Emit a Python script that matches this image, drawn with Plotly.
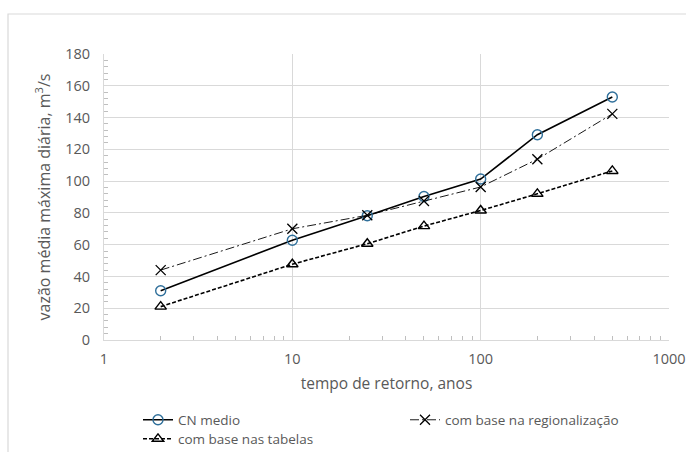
import plotly.graph_objects as go

# Return periods (years) and daily mean peak discharge (m³/s)
tempo_retorno = [2, 10, 25, 50, 100, 200, 500]
cn_medio = [31, 62.8, 78.2, 90.3, 101.3, 129.2, 152.9]
regionalizacao = [44, 70, 78.5, 87.5, 96.3, 113.8, 142.3]
tabelas = [21, 47.7, 60.6, 71.7, 81.5, 92, 106.4]

nomes = ["CN medio", "com base na regionalização", "com base nas tabelas"]

FONT = "Open Sans"
TICK_COLOR = "#595959"
GRID = "#d9d9d9"

W, H = 686, 452
L, R, T, B = 104, 17, 54, 112

fig = go.Figure()

fig.add_trace(go.Scatter(
    x=tempo_retorno, y=cn_medio, name=nomes[0], mode="lines+markers",
    line=dict(color="#000000", width=1.6),
    marker=dict(symbol="circle-open", size=10, color="#2f6f9a", line=dict(width=1.4)),
    legend="legend",
))
fig.add_trace(go.Scatter(
    x=tempo_retorno, y=regionalizacao, name=nomes[1], mode="lines+markers",
    line=dict(color="#000000", width=0.9, dash="9px,3px,2px,3px"),
    marker=dict(symbol="x-thin-open", size=10, color="#000000", line=dict(width=1.3, color="#000000")),
    legend="legend",
))
fig.add_trace(go.Scatter(
    x=tempo_retorno, y=tabelas, name=nomes[2], mode="lines+markers",
    line=dict(color="#000000", width=1.6, dash="4px,2px"),
    marker=dict(symbol="triangle-up-open", size=10, color="#000000", line=dict(width=1.4)),
    legend="legend2",
))

# pixel -> paper coordinate helpers
px = lambda v: (v - L) / (W - L - R)
py = lambda v: 1 - (v - T) / (H - T - B)

# outer chart-area frame
fig.add_shape(type="rect", xref="paper", yref="paper",
              x0=px(8), x1=px(W + 20), y0=py(H + 20), y1=py(14),
              line=dict(color="#d9d9d9", width=1.2), fillcolor="rgba(0,0,0,0)", layer="below")

legend_common = dict(
    orientation="h", xanchor="left", yanchor="middle",
    entrywidth=222, entrywidthmode="pixels",
    font=dict(size=13.5, color=TICK_COLOR, family=FONT),
    itemclick=False, bgcolor="rgba(0,0,0,0)", borderwidth=0,
)

fig.update_layout(
    width=W, height=H,
    margin=dict(l=L, r=R, t=T, b=B, autoexpand=False),
    paper_bgcolor="white", plot_bgcolor="white",
    font=dict(family=FONT, color=TICK_COLOR, size=14),
    showlegend=True,
    legend=dict(x=px(138), y=py(420), **legend_common),
    legend2=dict(x=px(138), y=py(439), **legend_common),
)

fig.update_xaxes(
    type="log", range=[0, 3], dtick=1, tickformat="d",
    showgrid=True, gridcolor=GRID, gridwidth=1,
    showline=True, linecolor=GRID, linewidth=1, mirror=False,
    ticks="", tickfont=dict(size=14.5, color=TICK_COLOR), ticklabelstandoff=6,
    minor=dict(ticks="inside", ticklen=4, tickcolor="#bfbfbf", showgrid=False),
    title=dict(text="tempo de retorno, anos", font=dict(size=15.5, color=TICK_COLOR), standoff=10),
    zeroline=False,
)
fig.update_yaxes(
    range=[0, 180], dtick=20,
    showgrid=True, gridcolor=GRID, gridwidth=1,
    showline=True, linecolor=GRID, linewidth=1,
    ticks="", tickfont=dict(size=14.5, color=TICK_COLOR), ticklabelstandoff=10,
    minor=dict(ticks="inside", ticklen=4, tickcolor="#bfbfbf", dtick=4, showgrid=False),
    title=dict(text="vazão média máxima diária, m<sup>3</sup>/s", font=dict(size=16, color=TICK_COLOR), standoff=10),
    zeroline=False,
)

fig.write_html("out.html")
